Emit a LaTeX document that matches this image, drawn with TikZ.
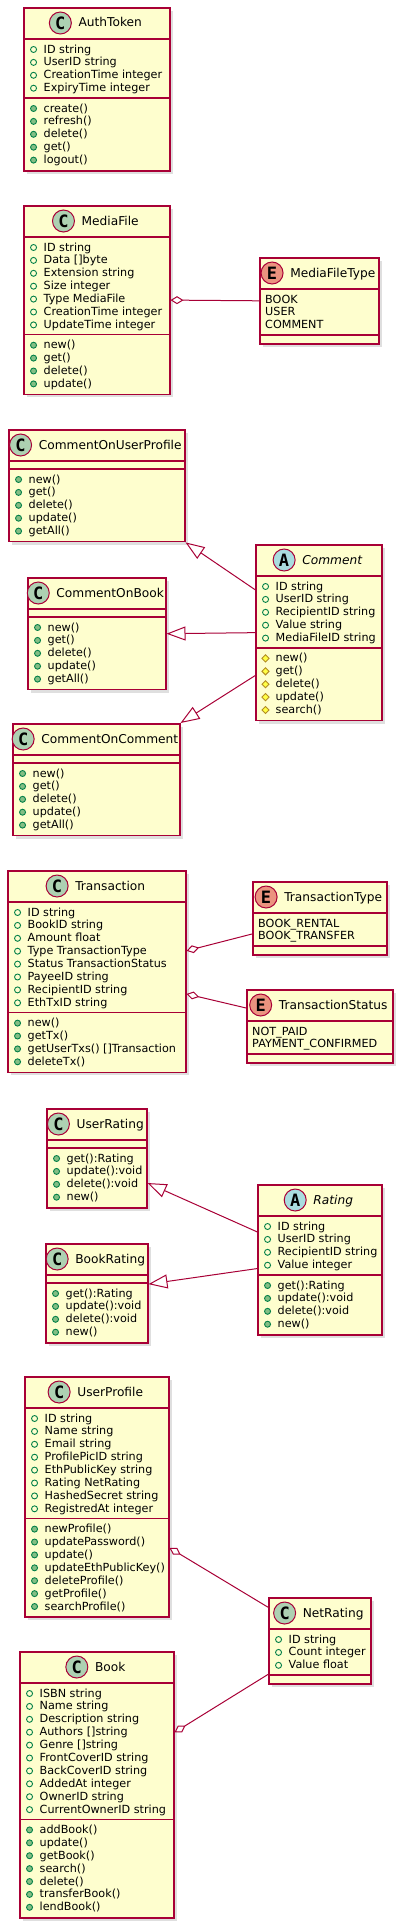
\documentclass[tikz,border=0pt]{standalone}
\usepackage{fontspec}
\setmainfont{DejaVu Sans}
\newfontfamily\spotfont{DejaVu Sans Mono}
\usetikzlibrary{positioning,shapes.geometric,arrows.meta,shadows}

\newlength{\du}
\setlength{\du}{1pt}

\definecolor{umlred}{HTML}{A80036}
\definecolor{umlfill}{HTML}{FEFECE}
\definecolor{spotgreen}{HTML}{ADD1B2}
\definecolor{spotsalmon}{HTML}{EB937F}
\definecolor{spotblue}{HTML}{A9DCDF}
\definecolor{visline}{HTML}{038048}
\definecolor{visfill}{HTML}{84BE84}
\definecolor{protline}{HTML}{B38D22}
\definecolor{protfill}{HTML}{FFFF44}

\tikzset{
  classbox/.style={rectangle, draw=umlred, fill=umlfill, line width=1.5\du, inner sep=0pt, anchor=north west,
    drop shadow={shadow xshift=3\du, shadow yshift=-3\du, opacity=0.25}},
  sepline/.style={draw=umlred, line width=1.5\du},
  classtitle/.style={inner sep=0pt, text height=9.5\du, text depth=1.5\du, font=\fontsize{12.2}{14}\selectfont},
  abstracttitle/.style={classtitle, font=\fontsize{12.2}{14}\selectfont\itshape},
  spot/.style={circle, draw=umlred, line width=1\du, minimum size=22\du, inner sep=0pt,
    font=\spotfont\bfseries\fontsize{17}{17}\selectfont},
  spotclass/.style={spot, fill=spotgreen},
  spotenum/.style={spot, fill=spotsalmon},
  spotabstract/.style={spot, fill=spotblue},
  member/.style={anchor=west, inner sep=0pt, text height=8\du, text depth=1\du, font=\fontsize{11.2}{12.9}\selectfont},
  attrmark/.style={circle, draw=visline, line width=0.9\du, minimum size=6\du, inner sep=0pt},
  opmark/.style={attrmark, fill=visfill},
  protmark/.style={diamond, draw=protline, fill=protfill, line width=0.9\du, minimum size=7.5\du, inner sep=0pt},
  attrrow/.style={member, label={[attrmark, xshift=-6.5\du]left:}},
  oprow/.style={member, label={[opmark, xshift=-6.5\du]left:}},
  protrow/.style={member, label={[protmark, xshift=-5.8\du]left:}},
  enumrow/.style={member},
  aggr/.style={draw=umlred, line width=1\du, {Diamond[length=13pt,width=8pt,fill=white]}-},
  inherit/.style={draw=umlred, line width=1\du, -{Triangle[length=19pt,width=14pt,fill=white]}}
}

\begin{document}
\begin{tikzpicture}
\pgftransformyscale{-1.000000}
\useasboundingbox (0\du,0\du) rectangle (405\du,1930\du);
% AuthToken
\node[classbox, minimum width=146\du, minimum height=163\du] (AuthToken) at (23\du,7\du) {};
\draw[sepline] (23\du,39\du) -- (169\du,39\du);
\draw[sepline] (23\du,98\du) -- (169\du,98\du);
\node[classtitle] (AuthToken-t) at (110.2\du,23\du) {AuthToken};
\node[spotclass, left=6.5\du of AuthToken-t] (AuthToken-s) {C};
\node[attrrow] (AuthToken-a1) at (43.5\du,49.5\du) {ID string};
\node[attrrow] (AuthToken-a2) at (43.5\du,62.4\du) {UserID string};
\node[attrrow] (AuthToken-a3) at (43.5\du,75.3\du) {CreationTime integer};
\node[attrrow] (AuthToken-a4) at (43.5\du,88.2\du) {ExpiryTime integer};
\node[oprow] (AuthToken-m1) at (43.5\du,108.5\du) {create()};
\node[oprow] (AuthToken-m2) at (43.5\du,121.4\du) {refresh()};
\node[oprow] (AuthToken-m3) at (43.5\du,134.3\du) {delete()};
\node[oprow] (AuthToken-m4) at (43.5\du,147.2\du) {get()};
\node[oprow] (AuthToken-m5) at (43.5\du,160.1\du) {logout()};
% MediaFile
\node[classbox, minimum width=146\du, minimum height=188.7\du] (MediaFile) at (23\du,205\du) {};
\draw[sepline] (23\du,237\du) -- (169\du,237\du);
\draw[sepline] (23\du,334.7\du) -- (169\du,334.7\du);
\node[classtitle] (MediaFile-t) at (110.2\du,221\du) {MediaFile};
\node[spotclass, left=6.5\du of MediaFile-t] (MediaFile-s) {C};
\node[attrrow] (MediaFile-a1) at (43.5\du,247.5\du) {ID string};
\node[attrrow] (MediaFile-a2) at (43.5\du,260.4\du) {Data []byte};
\node[attrrow] (MediaFile-a3) at (43.5\du,273.3\du) {Extension string};
\node[attrrow] (MediaFile-a4) at (43.5\du,286.2\du) {Size integer};
\node[attrrow] (MediaFile-a5) at (43.5\du,299.1\du) {Type MediaFile};
\node[attrrow] (MediaFile-a6) at (43.5\du,312.0\du) {CreationTime integer};
\node[attrrow] (MediaFile-a7) at (43.5\du,324.9\du) {UpdateTime integer};
\node[oprow] (MediaFile-m1) at (43.5\du,345.2\du) {new()};
\node[oprow] (MediaFile-m2) at (43.5\du,358.1\du) {get()};
\node[oprow] (MediaFile-m3) at (43.5\du,371.0\du) {delete()};
\node[oprow] (MediaFile-m4) at (43.5\du,383.9\du) {update()};
% MediaFileType
\node[classbox, minimum width=119\du, minimum height=86.1\du] (MediaFileType) at (259\du,257\du) {};
\draw[sepline] (259\du,289\du) -- (378\du,289\du);
\draw[sepline] (259\du,335.1\du) -- (378\du,335.1\du);
\node[classtitle] (MediaFileType-t) at (332.8\du,273\du) {MediaFileType};
\node[spotenum, left=6.5\du of MediaFileType-t] (MediaFileType-s) {E};
\node[enumrow] (MediaFileType-v1) at (265\du,299.5\du) {BOOK};
\node[enumrow] (MediaFileType-v2) at (265\du,312.4\du) {USER};
\node[enumrow] (MediaFileType-v3) at (265\du,325.3\du) {COMMENT};
\draw[aggr] (MediaFile.east) -- (MediaFileType.west);
% CommentOnUserProfile
\node[classbox, minimum width=176\du, minimum height=111.9\du] (CommentOnUserProfile) at (8\du,429\du) {};
\draw[sepline] (8\du,461\du) -- (184\du,461\du);
\draw[sepline] (8\du,469\du) -- (184\du,469\du);
\node[classtitle] (CommentOnUserProfile-t) at (110.2\du,445\du) {CommentOnUserProfile};
\node[spotclass, left=6.5\du of CommentOnUserProfile-t] (CommentOnUserProfile-s) {C};
\node[oprow] (CommentOnUserProfile-m1) at (28.5\du,479.5\du) {new()};
\node[oprow] (CommentOnUserProfile-m2) at (28.5\du,492.4\du) {get()};
\node[oprow] (CommentOnUserProfile-m3) at (28.5\du,505.3\du) {delete()};
\node[oprow] (CommentOnUserProfile-m4) at (28.5\du,518.2\du) {update()};
\node[oprow] (CommentOnUserProfile-m5) at (28.5\du,531.1\du) {getAll()};
% Comment
\node[classbox, minimum width=126\du, minimum height=175.8\du] (Comment) at (255\du,544\du) {};
\draw[sepline] (255\du,576\du) -- (381\du,576\du);
\draw[sepline] (255\du,647.9\du) -- (381\du,647.9\du);
\node[abstracttitle] (Comment-t) at (332.2\du,560\du) {Comment};
\node[spotabstract, left=6.5\du of Comment-t] (Comment-s) {A};
\node[attrrow] (Comment-a1) at (275.5\du,586.5\du) {ID string};
\node[attrrow] (Comment-a2) at (275.5\du,599.4\du) {UserID string};
\node[attrrow] (Comment-a3) at (275.5\du,612.3\du) {RecipientID string};
\node[attrrow] (Comment-a4) at (275.5\du,625.2\du) {Value string};
\node[attrrow] (Comment-a5) at (275.5\du,638.1\du) {MediaFileID string};
\node[protrow] (Comment-m1) at (275.5\du,658.4\du) {new()};
\node[protrow] (Comment-m2) at (275.5\du,671.3\du) {get()};
\node[protrow] (Comment-m3) at (275.5\du,684.2\du) {delete()};
\node[protrow] (Comment-m4) at (275.5\du,697.1\du) {update()};
\node[protrow] (Comment-m5) at (275.5\du,710.0\du) {search()};
% CommentOnBook
\node[classbox, minimum width=138\du, minimum height=111.9\du] (CommentOnBook) at (27\du,577\du) {};
\draw[sepline] (27\du,609\du) -- (165\du,609\du);
\draw[sepline] (27\du,617\du) -- (165\du,617\du);
\node[classtitle] (CommentOnBook-t) at (110.2\du,593\du) {CommentOnBook};
\node[spotclass, left=6.5\du of CommentOnBook-t] (CommentOnBook-s) {C};
\node[oprow] (CommentOnBook-m1) at (47.5\du,627.5\du) {new()};
\node[oprow] (CommentOnBook-m2) at (47.5\du,640.4\du) {get()};
\node[oprow] (CommentOnBook-m3) at (47.5\du,653.3\du) {delete()};
\node[oprow] (CommentOnBook-m4) at (47.5\du,666.2\du) {update()};
\node[oprow] (CommentOnBook-m5) at (47.5\du,679.1\du) {getAll()};
% CommentOnComment
\node[classbox, minimum width=167\du, minimum height=111.9\du] (CommentOnComment) at (12\du,723\du) {};
\draw[sepline] (12\du,755\du) -- (179\du,755\du);
\draw[sepline] (12\du,763\du) -- (179\du,763\du);
\node[classtitle] (CommentOnComment-t) at (109.8\du,739\du) {CommentOnComment};
\node[spotclass, left=6.5\du of CommentOnComment-t] (CommentOnComment-s) {C};
\node[oprow] (CommentOnComment-m1) at (32.5\du,773.5\du) {new()};
\node[oprow] (CommentOnComment-m2) at (32.5\du,786.4\du) {get()};
\node[oprow] (CommentOnComment-m3) at (32.5\du,799.3\du) {delete()};
\node[oprow] (CommentOnComment-m4) at (32.5\du,812.2\du) {update()};
\node[oprow] (CommentOnComment-m5) at (32.5\du,825.1\du) {getAll()};
\draw[inherit] (Comment.146) -- (CommentOnUserProfile.south east);
\draw[inherit] (Comment.west) -- (CommentOnBook.east);
\draw[inherit] (Comment.214) -- (CommentOnComment.north east);
% Transaction
\node[classbox, minimum width=178\du, minimum height=201.6\du] (Transaction) at (7\du,870\du) {};
\draw[sepline] (7\du,902\du) -- (185\du,902\du);
\draw[sepline] (7\du,1012.6\du) -- (185\du,1012.6\du);
\node[classtitle] (Transaction-t) at (110.2\du,886\du) {Transaction};
\node[spotclass, left=6.5\du of Transaction-t] (Transaction-s) {C};
\node[attrrow] (Transaction-a1) at (27.5\du,912.5\du) {ID string};
\node[attrrow] (Transaction-a2) at (27.5\du,925.4\du) {BookID string};
\node[attrrow] (Transaction-a3) at (27.5\du,938.3\du) {Amount float};
\node[attrrow] (Transaction-a4) at (27.5\du,951.2\du) {Type TransactionType};
\node[attrrow] (Transaction-a5) at (27.5\du,964.1\du) {Status TransactionStatus};
\node[attrrow] (Transaction-a6) at (27.5\du,977.0\du) {PayeeID string};
\node[attrrow] (Transaction-a7) at (27.5\du,989.9\du) {RecipientID string};
\node[attrrow] (Transaction-a8) at (27.5\du,1002.8\du) {EthTxID string};
\node[oprow] (Transaction-m1) at (27.5\du,1023.1\du) {new()};
\node[oprow] (Transaction-m2) at (27.5\du,1036.0\du) {getTx()};
\node[oprow] (Transaction-m3) at (27.5\du,1048.9\du) {getUserTxs() []Transaction};
\node[oprow] (Transaction-m4) at (27.5\du,1061.8\du) {deleteTx()};
% TransactionType
\node[classbox, minimum width=134\du, minimum height=73.2\du] (TransactionType) at (252\du,881\du) {};
\draw[sepline] (252\du,913\du) -- (386\du,913\du);
\draw[sepline] (252\du,946.2\du) -- (386\du,946.2\du);
\node[classtitle] (TransactionType-t) at (333.2\du,897\du) {TransactionType};
\node[spotenum, left=6.5\du of TransactionType-t] (TransactionType-s) {E};
\node[enumrow] (TransactionType-v1) at (258\du,923.5\du) {BOOK\_RENTAL};
\node[enumrow] (TransactionType-v2) at (258\du,936.4\du) {BOOK\_TRANSFER};
% TransactionStatus
\node[classbox, minimum width=146\du, minimum height=73.2\du] (TransactionStatus) at (246\du,989\du) {};
\draw[sepline] (246\du,1021\du) -- (392\du,1021\du);
\draw[sepline] (246\du,1054.2\du) -- (392\du,1054.2\du);
\node[classtitle] (TransactionStatus-t) at (333.2\du,1005\du) {TransactionStatus};
\node[spotenum, left=6.5\du of TransactionStatus-t] (TransactionStatus-s) {E};
\node[enumrow] (TransactionStatus-v1) at (252\du,1031.5\du) {NOT\_PAID};
\node[enumrow] (TransactionStatus-v2) at (252\du,1044.4\du) {PAYMENT\_CONFIRMED};
\draw[aggr] (Transaction.13) -- (TransactionType.193);
\draw[aggr] (Transaction.346) -- (TransactionStatus.166);
% UserRating
\node[classbox, minimum width=100\du, minimum height=99\du] (UserRating) at (46\du,1108\du) {};
\draw[sepline] (46\du,1140\du) -- (146\du,1140\du);
\draw[sepline] (46\du,1148\du) -- (146\du,1148\du);
\node[classtitle] (UserRating-t) at (110.2\du,1124\du) {UserRating};
\node[spotclass, left=6.5\du of UserRating-t] (UserRating-s) {C};
\node[oprow] (UserRating-m1) at (66.5\du,1158.5\du) {get():Rating};
\node[oprow] (UserRating-m2) at (66.5\du,1171.4\du) {update():void};
\node[oprow] (UserRating-m3) at (66.5\du,1184.3\du) {delete():void};
\node[oprow] (UserRating-m4) at (66.5\du,1197.2\du) {new()};
% Rating
\node[classbox, minimum width=124\du, minimum height=150\du] (Rating) at (257\du,1184\du) {};
\draw[sepline] (257\du,1216\du) -- (381\du,1216\du);
\draw[sepline] (257\du,1275\du) -- (381\du,1275\du);
\node[abstracttitle] (Rating-t) at (333.2\du,1200\du) {Rating};
\node[spotabstract, left=6.5\du of Rating-t] (Rating-s) {A};
\node[attrrow] (Rating-a1) at (277.5\du,1226.5\du) {ID string};
\node[attrrow] (Rating-a2) at (277.5\du,1239.4\du) {UserID string};
\node[attrrow] (Rating-a3) at (277.5\du,1252.3\du) {RecipientID string};
\node[attrrow] (Rating-a4) at (277.5\du,1265.2\du) {Value integer};
\node[oprow] (Rating-m1) at (277.5\du,1285.5\du) {get():Rating};
\node[oprow] (Rating-m2) at (277.5\du,1298.4\du) {update():void};
\node[oprow] (Rating-m3) at (277.5\du,1311.3\du) {delete():void};
\node[oprow] (Rating-m4) at (277.5\du,1324.2\du) {new()};
% BookRating
\node[classbox, minimum width=102\du, minimum height=99\du] (BookRating) at (45\du,1243\du) {};
\draw[sepline] (45\du,1275\du) -- (147\du,1275\du);
\draw[sepline] (45\du,1283\du) -- (147\du,1283\du);
\node[classtitle] (BookRating-t) at (110.2\du,1259\du) {BookRating};
\node[spotclass, left=6.5\du of BookRating-t] (BookRating-s) {C};
\node[oprow] (BookRating-m1) at (65.5\du,1293.5\du) {get():Rating};
\node[oprow] (BookRating-m2) at (65.5\du,1306.4\du) {update():void};
\node[oprow] (BookRating-m3) at (65.5\du,1319.3\du) {delete():void};
\node[oprow] (BookRating-m4) at (65.5\du,1332.2\du) {new()};
\draw[inherit] (Rating.156) -- (UserRating.334);
\draw[inherit] (Rating.188) -- (BookRating.10);
% UserProfile
\node[classbox, minimum width=144\du, minimum height=240.3\du] (UserProfile) at (24\du,1376\du) {};
\draw[sepline] (24\du,1408\du) -- (168\du,1408\du);
\draw[sepline] (24\du,1518.6\du) -- (168\du,1518.6\du);
\node[classtitle] (UserProfile-t) at (110.2\du,1392\du) {UserProfile};
\node[spotclass, left=6.5\du of UserProfile-t] (UserProfile-s) {C};
\node[attrrow] (UserProfile-a1) at (44.5\du,1418.5\du) {ID string};
\node[attrrow] (UserProfile-a2) at (44.5\du,1431.4\du) {Name string};
\node[attrrow] (UserProfile-a3) at (44.5\du,1444.3\du) {Email string};
\node[attrrow] (UserProfile-a4) at (44.5\du,1457.2\du) {ProfilePicID string};
\node[attrrow] (UserProfile-a5) at (44.5\du,1470.1\du) {EthPublicKey string};
\node[attrrow] (UserProfile-a6) at (44.5\du,1483.0\du) {Rating NetRating};
\node[attrrow] (UserProfile-a7) at (44.5\du,1495.9\du) {HashedSecret string};
\node[attrrow] (UserProfile-a8) at (44.5\du,1508.8\du) {RegistredAt integer};
\node[oprow] (UserProfile-m1) at (44.5\du,1529.1\du) {newProfile()};
\node[oprow] (UserProfile-m2) at (44.5\du,1542.0\du) {updatePassword()};
\node[oprow] (UserProfile-m3) at (44.5\du,1554.9\du) {update()};
\node[oprow] (UserProfile-m4) at (44.5\du,1567.8\du) {updateEthPublicKey()};
\node[oprow] (UserProfile-m5) at (44.5\du,1580.7\du) {deleteProfile()};
\node[oprow] (UserProfile-m6) at (44.5\du,1593.6\du) {getProfile()};
\node[oprow] (UserProfile-m7) at (44.5\du,1606.5\du) {searchProfile()};
% NetRating
\node[classbox, minimum width=102\du, minimum height=86.1\du] (NetRating) at (268\du,1597\du) {};
\draw[sepline] (268\du,1629\du) -- (370\du,1629\du);
\draw[sepline] (268\du,1675.1\du) -- (370\du,1675.1\du);
\node[classtitle] (NetRating-t) at (333.2\du,1613\du) {NetRating};
\node[spotclass, left=6.5\du of NetRating-t] (NetRating-s) {C};
\node[attrrow] (NetRating-a1) at (288.5\du,1639.5\du) {ID string};
\node[attrrow] (NetRating-a2) at (288.5\du,1652.4\du) {Count integer};
\node[attrrow] (NetRating-a3) at (288.5\du,1665.3\du) {Value float};
% Book
\node[classbox, minimum width=154\du, minimum height=266.1\du] (Book) at (19\du,1651\du) {};
\draw[sepline] (19\du,1683\du) -- (173\du,1683\du);
\draw[sepline] (19\du,1819.4\du) -- (173\du,1819.4\du);
\node[classtitle] (Book-t) at (110.2\du,1667\du) {Book};
\node[spotclass, left=6.5\du of Book-t] (Book-s) {C};
\node[attrrow] (Book-a1) at (39.5\du,1693.5\du) {ISBN string};
\node[attrrow] (Book-a2) at (39.5\du,1706.4\du) {Name string};
\node[attrrow] (Book-a3) at (39.5\du,1719.3\du) {Description string};
\node[attrrow] (Book-a4) at (39.5\du,1732.2\du) {Authors []string};
\node[attrrow] (Book-a5) at (39.5\du,1745.1\du) {Genre []string};
\node[attrrow] (Book-a6) at (39.5\du,1758.0\du) {FrontCoverID string};
\node[attrrow] (Book-a7) at (39.5\du,1770.9\du) {BackCoverID string};
\node[attrrow] (Book-a8) at (39.5\du,1783.8\du) {AddedAt integer};
\node[attrrow] (Book-a9) at (39.5\du,1796.7\du) {OwnerID string};
\node[attrrow] (Book-a10) at (39.5\du,1809.6\du) {CurrentOwnerID string};
\node[oprow] (Book-m1) at (39.5\du,1829.9\du) {addBook()};
\node[oprow] (Book-m2) at (39.5\du,1842.8\du) {update()};
\node[oprow] (Book-m3) at (39.5\du,1855.7\du) {getBook()};
\node[oprow] (Book-m4) at (39.5\du,1868.6\du) {search()};
\node[oprow] (Book-m5) at (39.5\du,1881.5\du) {delete()};
\node[oprow] (Book-m6) at (39.5\du,1894.4\du) {transferBook()};
\node[oprow] (Book-m7) at (39.5\du,1907.3\du) {lendBook()};
\draw[aggr] (UserProfile.325) -- (NetRating.147);
\draw[aggr] (Book.34) -- (NetRating.213);
\end{tikzpicture}
\end{document}
